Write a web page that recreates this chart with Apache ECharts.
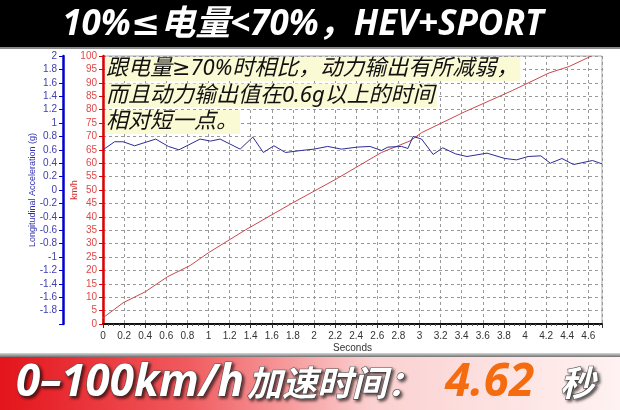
<!DOCTYPE html>
<html>
<head>
<meta charset="utf-8">
<script src="https://cdn.jsdelivr.net/npm/echarts@6/dist/echarts.min.js"></script>
<style>
  html, body { margin: 0; padding: 0; background: #fff; }
  #main { width: 620px; height: 410px; }
</style>
</head>
<body>
<div id="main"></div>
<script>
  // 车速 km/h
  const speedTime = [0, 0.19, 0.40, 0.61, 0.83, 0.92, 1.0, 1.35, 1.78, 2.22, 2.64, 2.91, 3.02, 3.43, 3.88, 4.23, 4.42, 4.63];
  const speedKmh  = [2.3, 7.9, 12.0, 17.6, 21.9, 24.4, 26.6, 35.1, 44.8, 54.3, 64.0, 68.3, 71.4, 79.2, 87.1, 93.7, 96.1, 100];

  // 纵向加速度 g
  const accelTime = [0, 0.11, 0.19, 0.30, 0.50, 0.62, 0.72, 0.92, 1.02, 1.11, 1.30, 1.42, 1.52, 1.62, 1.73, 1.88, 2.00, 2.13, 2.26,
                     2.41, 2.53, 2.64, 2.70, 2.83, 2.89, 2.94, 3.02, 3.13, 3.22, 3.34, 3.45, 3.64, 3.81, 3.92, 4.03, 4.15, 4.24,
                     4.35, 4.46, 4.64, 4.73];
  const accelG    = [0.60, 0.72, 0.72, 0.66, 0.76, 0.65, 0.60, 0.76, 0.73, 0.76, 0.61, 0.79, 0.56, 0.66, 0.56, 0.59, 0.61, 0.65, 0.61,
                     0.64, 0.65, 0.59, 0.64, 0.65, 0.62, 0.80, 0.76, 0.53, 0.63, 0.54, 0.50, 0.55, 0.47, 0.45, 0.50, 0.51, 0.40,
                     0.47, 0.38, 0.44, 0.39];

  const titleText = '10%≤电量<70%，HEV+SPORT';
  const noteLines = ['跟电量≥70%时相比，动力输出有所减弱，', '而且动力输出值在0.6g以上的时间', '相对短一点。'];

  const chart = echarts.init(document.getElementById('main'));

  const mixFont = '"Noto Sans", "DejaVu Sans", "Noto Sans CJK SC"';
  const tickFont = { fontFamily: 'Liberation Sans', fontSize: 10 };
  const onStep = (v, step) => Math.abs(v / step - Math.round(v / step)) < 0.01;

  const noteGraphics = noteLines.map((t, i) => ({
    type: 'text',
    x: 105,
    y: 57 + i * 26.5,
    z: 10,
    style: {
      text: t,
      font: 'italic 22px ' + mixFont,
      fill: '#111',
      backgroundColor: '#fafad4',
      padding: [1, 2, 1, 1]
    }
  }));

  const whiteShadow = {
    fill: '#fff',
    stroke: '#5a5a5a',
    lineWidth: 1.2,
    textShadowColor: 'rgba(0,0,0,0.6)',
    textShadowBlur: 3,
    textShadowOffsetX: 2,
    textShadowOffsetY: 2,
    verticalAlign: 'middle'
  };

  const option = {
    backgroundColor: '#fff',
    animation: false,
    grid: {
      left: 103, right: 18, top: 56, bottom: 86,
      show: true, borderColor: '#aaa', borderWidth: 1, backgroundColor: 'transparent'
    },
    xAxis: {
      type: 'value',
      min: 0, max: 4.73, interval: 0.2,
      name: 'Seconds', nameLocation: 'middle', nameGap: 19, nameMoveOverlap: false,
      nameTextStyle: { color: '#333', fontFamily: 'Liberation Sans', fontSize: 10 },
      axisLine: { lineStyle: { color: '#111', width: 2 } },
      axisTick: { length: 4, lineStyle: { color: '#333' } },
      minorTick: { show: true, splitNumber: 4, length: 2, lineStyle: { color: '#555' } },
      axisLabel: Object.assign({ color: '#333', margin: 7,
        formatter: v => onStep(v, 0.2) ? String(+v.toFixed(1)) : '' }, tickFont),
      splitLine: { show: true, lineStyle: { color: '#999', type: [3, 3], width: 1 } }
    },
    yAxis: [
      {
        type: 'value',
        min: 0, max: 100, interval: 5,
        position: 'left',
        name: 'km/h', nameLocation: 'middle', nameGap: 24, nameMoveOverlap: false,
        nameTextStyle: { color: '#d03030', fontFamily: 'Liberation Sans', fontSize: 9 },
        axisLine: { show: true, lineStyle: { color: '#e00000', width: 2.5 } },
        axisTick: { show: true, length: 4, lineStyle: { color: '#e00000' } },
        axisLabel: Object.assign({ color: '#e04848', margin: 6 }, tickFont),
        splitLine: { show: true, lineStyle: { color: '#999', type: [3, 3], width: 1 } }
      },
      {
        type: 'value',
        min: -2, max: 2, interval: 0.2,
        position: 'left', offset: 40,
        name: 'Longitudinal Acceleration (g)', nameLocation: 'middle', nameGap: 26, nameMoveOverlap: false,
        nameTextStyle: { color: '#3030b0', fontFamily: 'Liberation Sans', fontSize: 9 },
        axisLine: { show: true, lineStyle: { color: '#0000d0', width: 2.5 } },
        axisTick: { show: true, length: 4, lineStyle: { color: '#0000d0' } },
        axisLabel: Object.assign({ color: '#4040b0', margin: 6,
          formatter: v => v < -1.99 ? '' : String(+v.toFixed(1)) }, tickFont),
        splitLine: { show: false }
      }
    ],
    series: [
      {
        name: 'km/h',
        type: 'line',
        yAxisIndex: 0,
        showSymbol: false,
        clip: true,
        lineStyle: { color: '#c8484c', width: 1 },
        data: speedTime.map((t, i) => [t, speedKmh[i]])
      },
      {
        name: 'g',
        type: 'line',
        yAxisIndex: 1,
        showSymbol: false,
        clip: true,
        lineStyle: { color: '#2c2c96', width: 1 },
        data: accelTime.map((t, i) => [t, accelG[i]])
      }
    ],
    graphic: [
      // 顶部黑色标题栏
      { type: 'rect', shape: { x: 0, y: 0, width: 620, height: 47 }, style: { fill: '#000' }, z: 5 },
      { type: 'rect', shape: { x: 0, y: 47, width: 620, height: 2 }, style: { fill: '#8a8a8a' }, z: 5 },
      {
        type: 'text', x: 303, y: 25, z: 6,
        style: {
          text: titleText,
          font: 'italic bold 35px ' + mixFont,
          fill: '#fff', align: 'center', verticalAlign: 'middle'
        }
      },
      ...noteGraphics,
      // 底部红色渐变栏
      {
        type: 'rect', shape: { x: 0, y: 353, width: 620, height: 4 }, z: 5,
        style: { fill: new echarts.graphic.LinearGradient(0, 0, 0, 1, [
          { offset: 0, color: '#d8d8d8' }, { offset: 1, color: '#707070' }]) }
      },
      {
        type: 'rect', shape: { x: 0, y: 357, width: 620, height: 53 }, z: 5,
        style: { fill: new echarts.graphic.LinearGradient(0, 0, 1, 0, [
          { offset: 0, color: '#e4141b' },
          { offset: 0.3, color: '#f05a5e' },
          { offset: 0.6, color: '#fbd0d0' },
          { offset: 1, color: '#fff2f2' }]) }
      },
      {
        type: 'text', x: 16, y: 383, z: 6,
        style: Object.assign({ text: '0–100km/h', font: 'italic bold 44px "Noto Sans"' }, whiteShadow)
      },
      {
        type: 'text', x: 247, y: 383, z: 6,
        style: Object.assign({ text: '加速时间：', font: 'italic bold 35px "Noto Sans CJK SC"' }, whiteShadow)
      },
      {
        type: 'text', x: 445, y: 383, z: 6,
        style: {
          text: '4.62', font: 'italic bold 46px "Noto Sans"', fill: '#f56c10',
          verticalAlign: 'middle'
        }
      },
      {
        type: 'text', x: 560, y: 383, z: 6,
        style: Object.assign({ text: '秒', font: 'italic bold 35px "Noto Sans CJK SC"' }, whiteShadow)
      }
    ]
  };

  chart.setOption(option);
</script>
</body>
</html>
